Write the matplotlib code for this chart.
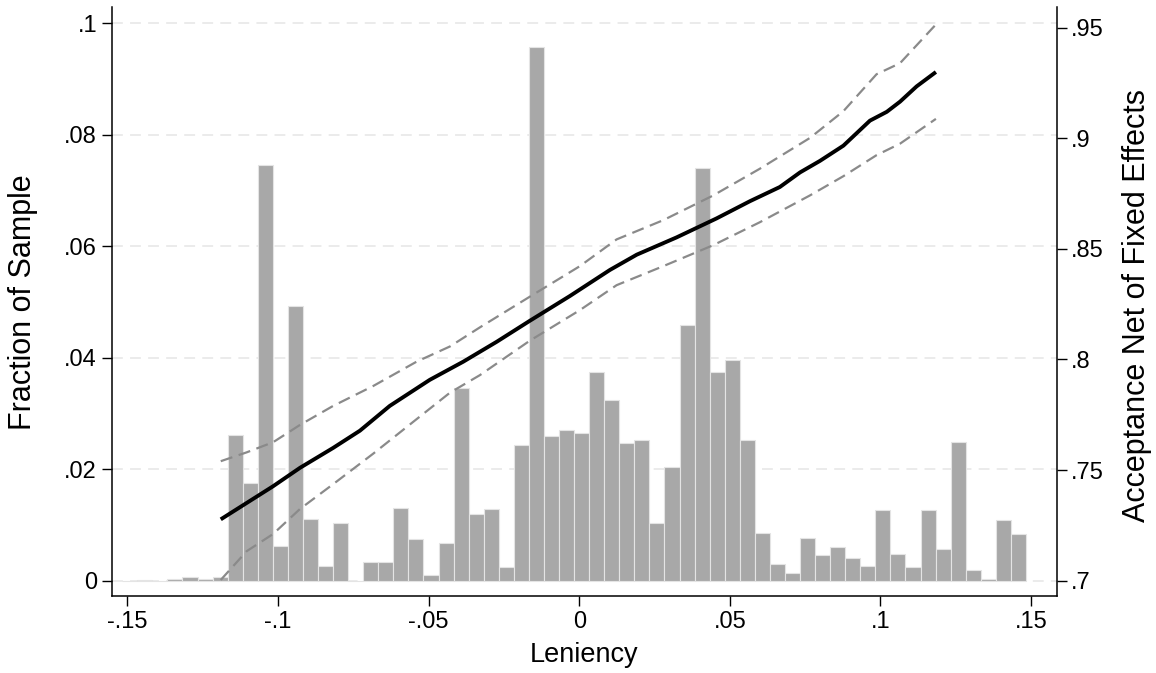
import numpy as np
import matplotlib
matplotlib.use('Agg')
import matplotlib.pyplot as plt

plt.rcParams['font.family'] = ['Liberation Sans', 'DejaVu Sans']

# histogram: 60 bins of width .005 starting at -.1517
bin_start = -0.1517
bin_width = 0.005
fractions = [
    0.0000, 0.0001, 0.0000, 0.0003, 0.0007, 0.0003, 0.0007, 0.0262, 0.0176, 0.0746,
    0.0062, 0.0493, 0.0111, 0.0027, 0.0104, 0.0000, 0.0034, 0.0034, 0.0130, 0.0075,
    0.0010, 0.0067, 0.0345, 0.0119, 0.0128, 0.0024, 0.0244, 0.0957, 0.0260, 0.0270,
    0.0264, 0.0375, 0.0324, 0.0247, 0.0252, 0.0104, 0.0204, 0.0458, 0.0741, 0.0375,
    0.0395, 0.0252, 0.0086, 0.0030, 0.0013, 0.0077, 0.0046, 0.0060, 0.0040, 0.0027,
    0.0127, 0.0048, 0.0025, 0.0127, 0.0056, 0.0248, 0.0019, 0.0003, 0.0109, 0.0084,
]

# local fit of acceptance on leniency, with 95% band
fit_x = [-0.119, -0.1016, -0.0927, -0.0817, -0.0728, -0.0629, -0.0496, -0.0385,
         -0.0274, -0.0164, -0.0031, 0.0102, 0.0191, 0.0323, 0.0456, 0.0567,
         0.0666, 0.0733, 0.0799, 0.0877, 0.0965, 0.1021, 0.1065, 0.112, 0.1184]
fit_y = [0.7277, 0.7427, 0.7510, 0.7600, 0.7678, 0.7790, 0.7908, 0.7990,
         0.8080, 0.8175, 0.8287, 0.8405, 0.8474, 0.8552, 0.8638, 0.8716,
         0.8780, 0.8846, 0.8898, 0.8967, 0.9080, 0.9120, 0.9166, 0.9235, 0.9300]

ci_x = [-0.119, -0.1104, -0.1016, -0.0927, -0.0817, -0.0684, -0.054, -0.0429,
        -0.033, -0.0164, 0.0002, 0.0124, 0.0279, 0.0445, 0.06, 0.0766, 0.0877,
        0.0987, 0.1065, 0.1184]
ci_hi = [0.7540, 0.7580, 0.7626, 0.7704, 0.7790, 0.7880, 0.7990, 0.8059,
         0.8145, 0.8284, 0.8422, 0.8543, 0.8630, 0.8742, 0.8863, 0.9002, 0.9123,
         0.9290, 0.9340, 0.9515]
ci_lo = [0.7003, 0.7133, 0.7211, 0.7324, 0.7436, 0.7574, 0.7730, 0.7850,
         0.7929, 0.8085, 0.8223, 0.8336, 0.8422, 0.8517, 0.8621, 0.8742, 0.8829,
         0.8924, 0.8976, 0.9088]

left_ticks = [0, 0.02, 0.04, 0.06, 0.08, 0.1]
left_labels = ['0', '.02', '.04', '.06', '.08', '.1']
right_ticks = [0.7, 0.75, 0.8, 0.85, 0.9, 0.95]
right_labels = ['.7', '.75', '.8', '.85', '.9', '.95']
x_ticks = [-0.15, -0.1, -0.05, 0, 0.05, 0.1, 0.15]
x_labels = ['-.15', '-.1', '-.05', '0', '.05', '.1', '.15']

W, H = 1156, 673
fig = plt.figure(figsize=(W / 100, H / 100), dpi=100)
ax = fig.add_axes([111.7 / W, 1 - 596 / H, 945 / W, 589 / H])
ax2 = ax.twinx()

centers = bin_start + bin_width / 2 + bin_width * np.arange(len(fractions))
ax.bar(centers, fractions, width=bin_width, color='#a8a8a8',
       edgecolor='#e4e4e4', linewidth=0.8, zorder=2)

for t in left_ticks:
    ax.axhline(t, color='#e9e9e9', lw=1.3, dashes=(6, 4), zorder=1)

ax2.plot(ci_x, ci_hi, color='#8a8a8a', lw=1.6, dashes=(5.5, 3))
ax2.plot(ci_x, ci_lo, color='#8a8a8a', lw=1.6, dashes=(5.5, 3))
ax2.plot(fit_x, fit_y, color='black', lw=2.8, solid_capstyle='butt')

ax.set_xlim(-0.1552, 0.1585)
ax.set_ylim(-0.00276, 0.1029)
ax2.set_ylim(0.69304, 0.9594)

ax.set_xticks(x_ticks)
ax.set_xticklabels(x_labels)
ax.set_yticks(left_ticks)
ax.set_yticklabels(left_labels)
ax2.set_yticks(right_ticks)
ax2.set_yticklabels(right_labels)

for a in (ax, ax2):
    a.tick_params(direction='out', length=7, width=1.0, labelsize=17, pad=3.5)
    a.spines['top'].set_visible(False)
    for s in a.spines.values():
        s.set_linewidth(1.1)
ax.spines['right'].set_visible(False)
ax2.spines['left'].set_visible(False)
ax2.spines['bottom'].set_visible(False)

# axis titles placed in figure pixels
fig.text(584 / W, 1 - 655 / H, 'Leniency', fontsize=19.5, ha='center', va='center')
fig.text(23 / W, 1 - 302 / H, 'Fraction of Sample', fontsize=22,
         rotation=90, ha='center', va='center')
fig.text(1137 / W, 1 - 306 / H, 'Acceptance Net of Fixed Effects', fontsize=22,
         rotation=90, ha='center', va='center')

fig.savefig('out.png', dpi=100)
